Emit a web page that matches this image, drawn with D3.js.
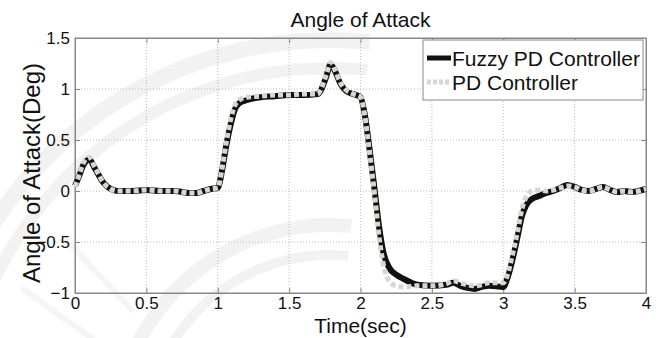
<!DOCTYPE html>
<html>
<head>
<meta charset="utf-8">
<script src="https://cdn.jsdelivr.net/npm/d3@7"></script>
<style>
  body { margin: 0; background: #fff; }
  text { font-family: "Liberation Sans", Arial, sans-serif; fill: #111; }
</style>
</head>
<body>
<div id="chart"></div>
<script>
// time (sec) samples and values
const fuzzyT = [0, 0.03, 0.06, 0.1, 0.14, 0.2, 0.25, 0.3, 0.4, 0.5, 0.6, 0.7, 0.8, 0.85, 0.9, 0.95, 1.0,
  1.03, 1.06, 1.09, 1.12, 1.15, 1.2, 1.3, 1.4, 1.5, 1.6, 1.7, 1.72, 1.76, 1.79, 1.82, 1.86, 1.9, 1.95, 2.0,
  2.03, 2.06, 2.1, 2.13, 2.16, 2.2, 2.25, 2.3, 2.4, 2.5, 2.6, 2.65, 2.7, 2.75, 2.8, 2.85, 2.9, 3.0,
  3.03, 3.06, 3.1, 3.13, 3.16, 3.2, 3.25, 3.3, 3.35, 3.4, 3.45, 3.5, 3.55, 3.6, 3.65, 3.7, 3.75, 3.8, 3.85, 3.9, 4.0];
const fuzzyV = [0.05, 0.15, 0.26, 0.31, 0.22, 0.08, 0.02, 0.0, 0.0, 0.01, 0.0, 0.0, -0.02, -0.02, 0.0, 0.02, 0.03,
  0.2, 0.45, 0.65, 0.8, 0.86, 0.89, 0.92, 0.93, 0.94, 0.94, 0.95, 0.98, 1.12, 1.24, 1.18, 1.05, 0.98, 0.95, 0.92,
  0.75, 0.45, 0.0, -0.35, -0.6, -0.75, -0.82, -0.86, -0.92, -0.93, -0.92, -0.9, -0.93, -0.95, -0.96, -0.94, -0.93, -0.94,
  -0.85, -0.7, -0.45, -0.25, -0.14, -0.08, -0.05, -0.02, 0.0, 0.03, 0.06, 0.04, 0.01, 0.0, 0.02, 0.04, 0.01, -0.01, 0.0, -0.01, 0.02];

const pdT = [0, 0.03, 0.06, 0.1, 0.14, 0.2, 0.25, 0.3, 0.4, 0.5, 0.6, 0.7, 0.8, 0.85, 0.9, 0.95, 1.0,
  1.03, 1.06, 1.09, 1.12, 1.15, 1.2, 1.3, 1.4, 1.5, 1.6, 1.7, 1.72, 1.76, 1.79, 1.82, 1.86, 1.9, 1.95, 2.0,
  2.03, 2.06, 2.1, 2.13, 2.16, 2.2, 2.25, 2.3, 2.4, 2.5, 2.6, 2.65, 2.7, 2.75, 2.8, 2.85, 2.9, 3.0,
  3.03, 3.06, 3.1, 3.13, 3.16, 3.2, 3.25, 3.3, 3.35, 3.4, 3.45, 3.5, 3.55, 3.6, 3.65, 3.7, 3.75, 3.8, 3.85, 3.9, 4.0];
const pdV = [0.04, 0.16, 0.28, 0.33, 0.23, 0.08, 0.02, 0.0, 0.0, 0.01, 0.0, 0.0, -0.02, -0.02, 0.0, 0.02, 0.03,
  0.22, 0.48, 0.7, 0.84, 0.89, 0.92, 0.93, 0.94, 0.94, 0.95, 0.95, 0.99, 1.14, 1.26, 1.19, 1.06, 0.99, 0.95, 0.92,
  0.74, 0.42, -0.05, -0.45, -0.72, -0.88, -0.93, -0.94, -0.93, -0.93, -0.91, -0.88, -0.9, -0.92, -0.93, -0.92, -0.9, -0.9,
  -0.82, -0.65, -0.4, -0.18, -0.06, 0.0, 0.01, 0.0, 0.01, 0.03, 0.05, 0.04, 0.01, 0.0, 0.02, 0.04, 0.01, -0.01, 0.0, -0.01, 0.02];

const xTicks = [0, 0.5, 1, 1.5, 2, 2.5, 3, 3.5, 4];
const yTicks = [-1, -0.5, 0, 0.5, 1, 1.5];
const seriesNames = ["Fuzzy PD Controller", "PD Controller"];

const W = 662, H = 338;
const margin = { top: 38, right: 16, bottom: 45, left: 75 };
const width = W - margin.left - margin.right;
const height = H - margin.top - margin.bottom;

const svg = d3.select("#chart").append("svg")
  .attr("width", W).attr("height", H);

// faint background watermark (seal arcs and rays)
const wm = svg.append("g").attr("transform", "translate(330,440)");
[[400, 16], [372, 12], [215, 14], [185, 10]].forEach(function (r) {
  wm.append("path")
    .attr("d", d3.arc()({ innerRadius: r[0] - r[1] / 2, outerRadius: r[0] + r[1] / 2, startAngle: -1.95, endAngle: 0.1 }))
    .attr("fill", "#000").attr("fill-opacity", 0.05);
});
[-1.35, -1.15, -0.95, -0.75].forEach(function (a) {
  wm.append("line")
    .attr("x1", 230 * Math.sin(a) - 40).attr("y1", -230 * Math.cos(a) + 40)
    .attr("x2", 330 * Math.sin(a) - 40).attr("y2", -330 * Math.cos(a) + 40)
    .attr("stroke", "#000").attr("stroke-opacity", 0.04).attr("stroke-width", 6);
});

const g = svg.append("g").attr("transform", "translate(" + margin.left + "," + margin.top + ")");

const x = d3.scaleLinear().domain([0, 4]).range([0, width]);
const y = d3.scaleLinear().domain([-1, 1.5]).range([height, 0]);

// grid
g.append("g").selectAll("line").data(xTicks.slice(1, -1)).enter().append("line")
  .attr("x1", d => x(d)).attr("x2", d => x(d)).attr("y1", 0).attr("y2", height)
  .attr("stroke", "#bbb").attr("stroke-dasharray", "1,2");
g.append("g").selectAll("line").data(yTicks.slice(1, -1)).enter().append("line")
  .attr("y1", d => y(d)).attr("y2", d => y(d)).attr("x1", 0).attr("x2", width)
  .attr("stroke", "#bbb").attr("stroke-dasharray", "1,2");

// axes (ticks inside, MATLAB style)
g.append("g").attr("transform", "translate(0," + height + ")")
  .call(d3.axisBottom(x).tickValues(xTicks).tickSize(-5).tickPadding(4).tickFormat(d3.format("")));
g.append("g")
  .call(d3.axisLeft(y).tickValues(yTicks).tickSize(-5).tickPadding(5).tickFormat(d3.format("")));
g.append("g").attr("transform", "translate(" + width + ",0)")
  .call(d3.axisRight(y).tickValues(yTicks).tickSize(-5).tickFormat(""));
g.append("g")
  .call(d3.axisTop(x).tickValues(xTicks).tickSize(-5).tickFormat(""));
g.selectAll(".domain").attr("stroke", "#888");
g.selectAll(".tick line").attr("stroke", "#888");
g.selectAll(".tick text").style("font-size", "17px").style("fill", "#111");
g.append("rect").attr("width", width).attr("height", height)
  .attr("fill", "none").attr("stroke", "#888");

// lines
const line = d3.line().x(d => x(d[0])).y(d => y(d[1])).curve(d3.curveMonotoneX);
const fuzzy = fuzzyT.map((t, i) => [t, fuzzyV[i]]);
const pd = pdT.map((t, i) => [t, pdV[i]]);

g.append("path").datum(fuzzy).attr("d", line)
  .attr("fill", "none").attr("stroke", "#111").attr("stroke-width", 6);
g.append("path").datum(pd).attr("d", line)
  .attr("fill", "none").attr("stroke", "#d6d6d2").attr("stroke-width", 5)
  .attr("stroke-dasharray", "5,3");

// title and labels
svg.append("text").attr("x", margin.left + width / 2).attr("y", 27)
  .attr("text-anchor", "middle").style("font-size", "21px").text("Angle of Attack");
svg.append("text").attr("x", margin.left + width / 2).attr("y", 333)
  .attr("text-anchor", "middle").style("font-size", "21px").text("Time(sec)");
svg.append("text").attr("transform", "translate(40,173) rotate(-90)")
  .attr("text-anchor", "middle").style("font-size", "24px").text("Angle of Attack(Deg)");

// legend
const lg = svg.append("g").attr("transform", "translate(423,40)");
lg.append("rect").attr("width", 220).attr("height", 60)
  .attr("fill", "#fff").attr("stroke", "#888");
const lstyles = [{ c: "#111", dash: null }, { c: "#d6d6d2", dash: "4,2" }];
seriesNames.forEach(function (name, i) {
  const yy = 18 + i * 24;
  lg.append("line").attr("x1", 4).attr("x2", 28).attr("y1", yy).attr("y2", yy)
    .attr("stroke", lstyles[i].c).attr("stroke-width", 5)
    .attr("stroke-dasharray", lstyles[i].dash);
  lg.append("text").attr("x", 29).attr("y", yy + 8).style("font-size", "21px").text(name);
});
</script>
</body>
</html>
